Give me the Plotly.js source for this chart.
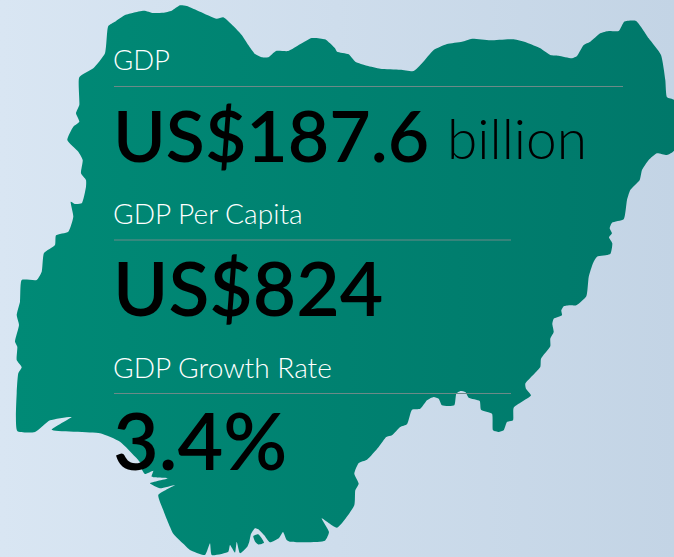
<!DOCTYPE html>
<html><head><meta charset="utf-8">
<script src="https://cdn.plot.ly/plotly-3.0.1.min.js"></script>
<style>html,body{margin:0;padding:0;width:674px;height:557px;overflow:hidden;background:linear-gradient(90deg,#d9e6f3 0%,#c3d4e5 100%)}</style>
</head><body><div id="chart" style="width:674px;height:557px"></div>
<script>
const metricLabels = ["GDP", "GDP Per Capita", "GDP Growth Rate"];
const metricValues = ["US$187.6", "US$824", "3.4%"];
const metricUnit = "billion";
const outlineX = [108.3,115,125,133.3,144,153.3,163.3,171.7,180,186.7,200,216.7,223.3,233.3,241.7,248.3,255,261.7,268.3,276,288.3,300,311.7,325,335,
337,348.7,355.3,367,380.3,400.3,413.7,422,433.7,447,462,472,490.3,513.7,527,540.3,550.3,558.7,572,577,583.7,590.3,600.3,608.7,618.7,624.3,636,648.7,661,665.3,667,674,
674,667,657,648.7,642,639.7,630.3,627,623.7,612,609.7,612,609,612.3,610.3,597,593,588.7,
586.3,576.3,570.3,563.7,561.3,562,553.7,552.3,553.7,550.3,550.3,541,540.3,525.3,526,531,513.7,513,507,503.7,498.7,493,492,481,479.7,468.7,465.3,460.3,456.3,454.3,442,438.7,433.7,427,420.3,412,407,400.3,392,386.3,378.7,367,358.7,354.3,358.7,355.3,354.3,337,
321.7,329,325,290,286.7,283,279,270,264,258.3,255,251,249.3,247.3,240,236.7,235,230,228.3,211.7,210,205,190,183.3,173.3,163.3,
158.3,175,160,150,168.3,151.7,153.3,145,141.7,153.3,143,136.7,120,100,51.7,71.7,50,35,17.3,
16.7,18.3,21.7,16.7,17.3,15,19,16.7,20,21.7,36.7,41.7,44,55,56,68.3,73.3,70.7,75,81.7,86,86,81,82.7,78.3,67.3,73.3,79.3,76,79.3,79.3,93.3,105,108.3,
null,253.3,258.3,264,258.3,255,253.3];
const outlineY = [26,21.7,15,12.7,10.7,13,12.7,10.7,5.3,6,11.7,18.7,17.3,26,35,45,54,57.3,57.3,51,51,44.3,38,39.3,48.3,
51.7,54.3,61.7,65.7,68.7,69.7,71,63.3,50,44,41.7,38.7,40.3,39.3,42.7,48.3,55,55.7,58.3,56,45,41.7,33.3,31,31,21.7,21,38.3,55,80,97.3,100,
150.7,155,153.3,160,170,180,190,200,219.3,222.7,228.3,233.3,237.3,243.3,254,256.7,263.3,277,
296.3,305.3,305.3,306.3,310.3,315.3,318.7,323.7,332,338.7,346.3,358.7,367,383.7,388.7,395.3,407.7,420.3,422,430.3,432,430.3,413.7,409.7,401,397.7,392,391,393.7,405.3,405.3,398.7,397,400.3,408.7,409.7,424.3,427,435.3,437,447,459.7,463,473.7,483.7,490.3,505.3,527.7,
518.3,532,540.7,541.7,540,532,538,542.3,535,529.3,528.3,534,541.7,546.7,553.3,541.7,552.7,545,551.7,555,543.3,555,550,543.7,533.7,510.3,
495,485,488.3,483.3,478.3,476.7,470.7,474,468.3,460.7,465,458.3,441.7,433.3,429.7,417,420.3,432,431,
393,373.3,367.3,360,346.7,341.7,325,315,301.7,280,280,271.7,253,245,235.3,231.7,216.7,201.7,204,203.3,186.7,180,173.3,160,151.7,140,126.7,121.7,113.3,105,77.3,68.3,53.3,26,
null,536,534.3,542.7,544.5,541.5,536];

const annos = [
  {x:112,y:76.5,text:metricLabels[0],font:{family:"Lato",size:27.5,weight:300,color:"#ffffff"}},
  {x:112,y:230.5,text:metricLabels[1],font:{family:"Lato",size:28.1,weight:300,color:"#ffffff"}},
  {x:112,y:384.5,text:metricLabels[2],font:{family:"Lato",size:28.1,weight:300,color:"#ffffff"}},
  {x:112,y:178,text:metricValues[0],font:{family:"Lato",size:71.5,weight:600,color:"#000000"}},
  {x:112,y:333,text:metricValues[1],font:{family:"Lato",size:75,weight:600,color:"#000000"}},
  {x:112,y:488,text:metricValues[2],font:{family:"Lato",size:79,weight:600,color:"#000000"}},
  {x:446,y:172,text:metricUnit,font:{family:"Lato",size:55,weight:300,color:"#000000"}}
].map(a=>Object.assign({xref:"x",yref:"y",xanchor:"left",yanchor:"bottom",showarrow:false,borderpad:0,ax:0,ay:0},a));

const rule = (x1,y)=>({type:"line",xref:"x",yref:"y",x0:114,x1:x1,y0:y,y1:y,line:{color:"#6c8a88",width:1.2},layer:"above"});

Plotly.newPlot("chart",[{
  type:"scatter",mode:"lines",x:outlineX,y:outlineY,fill:"toself",hoverinfo:"skip",
  line:{width:0,color:"rgba(0,0,0,0)",shape:"spline",smoothing:0.5},
  fillgradient:{type:"horizontal",colorscale:[[0,"#008a76"],[1,"#00786a"]]}
}],{
  width:674,height:557,margin:{l:0,r:0,t:0,b:0,pad:0},showlegend:false,
  paper_bgcolor:"rgba(0,0,0,0)",plot_bgcolor:"rgba(0,0,0,0)",
  xaxis:{range:[0,674],visible:false,fixedrange:true},
  yaxis:{range:[557,0],visible:false,fixedrange:true},
  shapes:[rule(623,86.5),rule(511,240),rule(511,393.5)],
  annotations:annos
},{displayModeBar:false,staticPlot:true});
</script></body></html>
